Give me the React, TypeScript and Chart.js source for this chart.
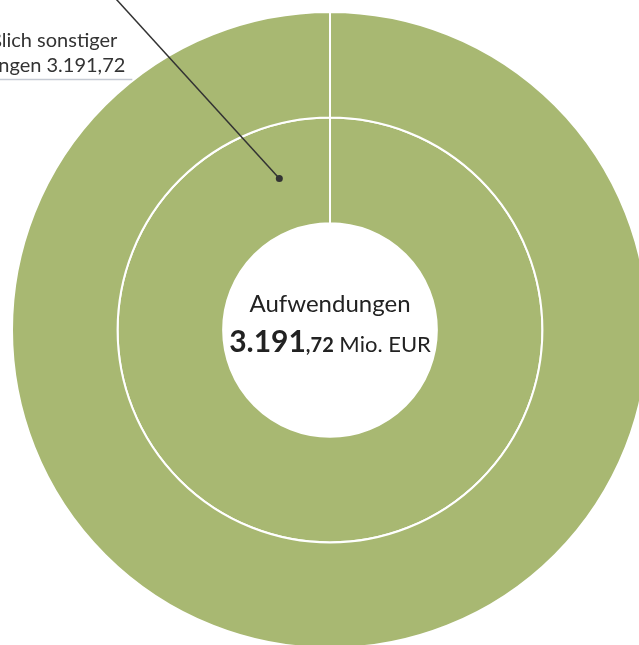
import React, { useEffect, useRef } from "react";
import { Chart, registerables } from "chart.js";

Chart.register(...registerables);

// ---- data ----
const categories = ["Aufwendungen einschließlich sonstiger Aufwendungen"];
const outerRingValues = [3191.72];
const innerRingValues = [3191.72];
const centerTitle = "Aufwendungen";
const totalInteger = "3.191";
const totalDecimals = ",72";
const totalUnit = " Mio. EUR";
const calloutLines = ["einschließlich sonstiger", "Aufwendungen 3.191,72"];

const GREEN = "#a8b872";
const FONT = "Lato, 'Open Sans', sans-serif";

const overlayPlugin = {
  id: "overlay",
  afterDraw(chart: any) {
    const ctx = chart.ctx as CanvasRenderingContext2D;
    const arcOuter = chart.getDatasetMeta(0).data[0] as any;
    const arcInner = chart.getDatasetMeta(1).data[0] as any;
    if (!arcOuter || !arcInner) return;
    const cx = arcInner.x;
    const cy = arcInner.y;

    ctx.save();
    // center text
    ctx.fillStyle = "#222222";
    ctx.textBaseline = "alphabetic";
    ctx.textAlign = "center";
    ctx.font = `24px ${FONT}`;
    ctx.fillText(centerTitle, cx, cy - 18);

    ctx.font = `bold 30px ${FONT}`;
    const w1 = ctx.measureText(totalInteger).width;
    ctx.font = `bold 20px ${FONT}`;
    const w2 = ctx.measureText(totalDecimals).width;
    ctx.font = `22px ${FONT}`;
    const w3 = ctx.measureText(totalUnit).width;
    let x = cx - (w1 + w2 + w3) / 2;
    const base = cy + 22;
    ctx.textAlign = "left";
    ctx.font = `bold 30px ${FONT}`;
    ctx.fillText(totalInteger, x, base);
    x += w1;
    ctx.font = `bold 20px ${FONT}`;
    ctx.fillText(totalDecimals, x, base);
    x += w2;
    ctx.font = `22px ${FONT}`;
    ctx.fillText(totalUnit, x, base);

    // callout
    const r = (arcInner.innerRadius + arcInner.outerRadius) / 2;
    const ang = -Math.PI / 2 - 0.323;
    const dx = cx + r * Math.cos(ang);
    const dy = cy + r * Math.sin(ang);
    ctx.strokeStyle = "#333333";
    ctx.lineWidth = 1.5;
    ctx.beginPath();
    ctx.moveTo(dx, dy);
    ctx.lineTo(dx - 180, dy - 198);
    ctx.stroke();
    ctx.fillStyle = "#333333";
    ctx.beginPath();
    ctx.arc(dx, dy, 3.5, 0, Math.PI * 2);
    ctx.fill();

    ctx.fillStyle = "#333333";
    ctx.font = `20px ${FONT}`;
    ctx.textAlign = "right";
    ctx.fillText(calloutLines[0], dx - 162, dy - 132);
    ctx.fillText(calloutLines[1], dx - 154, dy - 107);

    ctx.strokeStyle = "#c5cad3";
    ctx.lineWidth = 1.5;
    ctx.beginPath();
    ctx.moveTo(dx - 400, dy - 99);
    ctx.lineTo(dx - 147, dy - 99);
    ctx.stroke();
    ctx.restore();
  },
};

export default function App() {
  const ref = useRef<HTMLCanvasElement | null>(null);
  useEffect(() => {
    if (!ref.current) return;
    const chart = new Chart(ref.current, {
      type: "doughnut",
      data: {
        labels: categories,
        datasets: [
          {
            data: outerRingValues,
            backgroundColor: GREEN,
            borderColor: "#ffffff",
            borderWidth: 2,
          },
          {
            data: innerRingValues,
            backgroundColor: GREEN,
            borderColor: "#ffffff",
            borderWidth: 2,
          },
        ],
      },
      options: {
        responsive: false,
        animation: false,
        cutout: "33.6%",
        layout: { padding: 11 },
        plugins: {
          legend: { display: false },
          tooltip: { enabled: false },
        },
        events: [],
      },
      plugins: [overlayPlugin],
    });
    return () => chart.destroy();
  }, []);
  return (
    <div
      style={{
        position: "fixed",
        left: 0,
        top: 0,
        width: 639,
        height: 645,
        overflow: "hidden",
        background: "#ffffff",
      }}
    >
      <canvas ref={ref} width={660} height={660} style={{ display: "block" }} />
    </div>
  );
}
